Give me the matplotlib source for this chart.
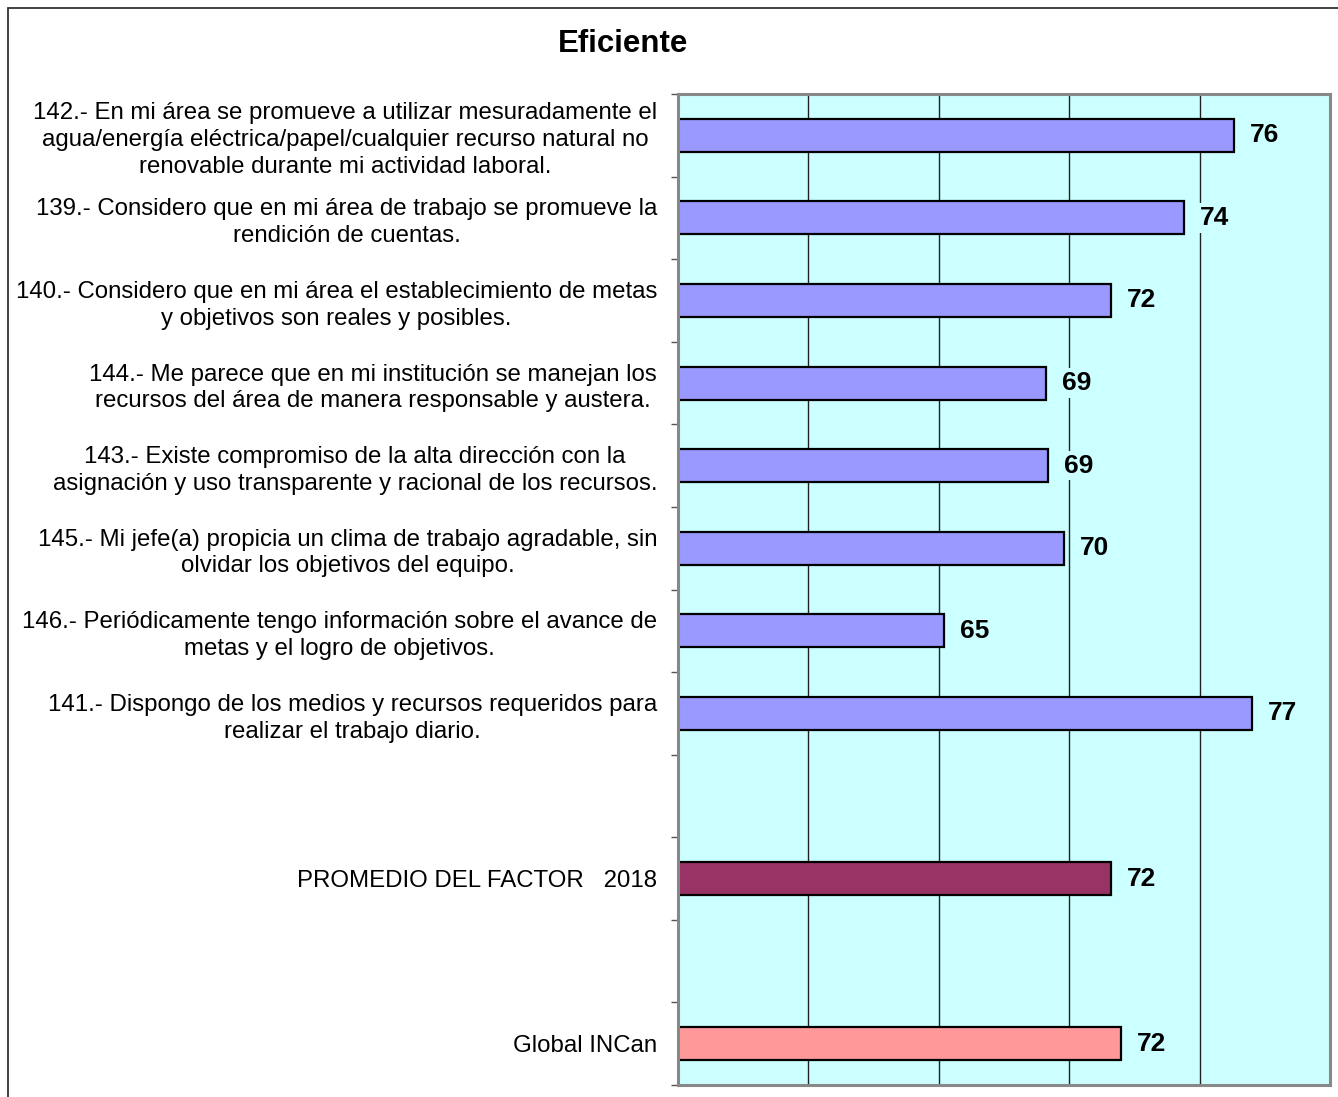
import matplotlib
matplotlib.use("Agg")
import matplotlib.pyplot as plt
from matplotlib.patches import Rectangle

# Survey items (factor "Eficiente") and their scores
items = [
    "142.- En mi área se promueve a utilizar mesuradamente el\nagua/energía eléctrica/papel/cualquier recurso natural no\nrenovable durante mi actividad laboral.",
    "139.- Considero que en mi área de trabajo se promueve la\nrendición de cuentas.",
    "140.- Considero que en mi área el establecimiento de metas\ny objetivos son reales y posibles.",
    "144.- Me parece que en mi institución se manejan los\nrecursos del área de manera responsable y austera.",
    "143.- Existe compromiso de la alta dirección con la\nasignación y uso transparente y racional de los recursos.",
    "145.- Mi jefe(a) propicia un clima de trabajo agradable, sin\nolvidar los objetivos del equipo.",
    "146.- Periódicamente tengo información sobre el avance de\nmetas y el logro de objetivos.",
    "141.- Dispongo de los medios y recursos requeridos para\nrealizar el trabajo diario.",
]
item_values = [76.3, 74.4, 71.6, 69.1, 69.2, 69.8, 65.2, 77.0]

summary_labels = ["PROMEDIO DEL FACTOR   2018", "Global INCan"]
summary_values = [71.6, 72.0]

title = "Eficiente"
x_min, x_max = 55, 80
grid_values = [60, 65, 70, 75]

FONT = "Liberation Sans"

W, H = 1338, 1097
fig = plt.figure(figsize=(W / 100, H / 100), dpi=100)
fig.patch.set_facecolor("white")

# outer chart border (top and left edges visible)
fig.add_artist(Rectangle((8 / W, -0.1), 1.2, 1 - 8 / H + 0.1, transform=fig.transFigure,
                         fill=False, edgecolor="#333333", linewidth=1.3))

ax = fig.add_axes([678 / W, 1 - 1085 / H, (1330 - 678) / W, (1085 - 94) / H])
ax.set_facecolor("#CCFFFF")

n_slots = 12
item_pos = list(range(len(items)))
summary_pos = [9, 11]

bar_h = 0.40
ax.barh(item_pos, [v - x_min for v in item_values], left=x_min, height=bar_h,
        color="#9999FF", edgecolor="black", linewidth=1.6, zorder=3)
ax.barh(summary_pos[0], summary_values[0] - x_min, left=x_min, height=bar_h,
        color="#993366", edgecolor="black", linewidth=1.6, zorder=3)
ax.barh(summary_pos[1], summary_values[1] - x_min, left=x_min, height=bar_h,
        color="#FF9999", edgecolor="black", linewidth=1.6, zorder=3)

for gv in grid_values:
    ax.axvline(gv, color="#222222", linewidth=1.0, zorder=1)

all_pos = item_pos + summary_pos
all_vals = item_values + summary_values
for p, v in zip(all_pos, all_vals):
    ax.annotate(f"{v:.0f}", (v, p), xytext=(11.5, 0), textcoords="offset points",
                ha="left", va="center", fontsize=19, fontweight="bold",
                family=FONT, zorder=4,
                bbox=dict(boxstyle="square,pad=0.1", facecolor="#CCFFFF", edgecolor="none"))

ax.set_xlim(x_min, x_max)
ax.set_ylim(n_slots - 0.5, -0.5)
ax.set_xticks([])

ax.set_yticks(all_pos)
ax.set_yticklabels(items + summary_labels, fontsize=17.3, family=FONT,
                   multialignment="center", linespacing=1.28)
ax.tick_params(axis="y", which="major", length=0, pad=15)
ax.set_yticks([i - 0.5 for i in range(n_slots + 1)], minor=True)
ax.tick_params(axis="y", which="minor", length=5, width=1, color="#555555", direction="out")

for s in ax.spines.values():
    s.set_color("#888888")
    s.set_linewidth(2.2)
    s.set_zorder(5)

fig.text(623 / W, 1 - 44 / H, title, ha="center", va="center", fontsize=22.5,
         fontweight="bold", family=FONT)

fig.savefig("out.png", dpi=100, facecolor="white")
